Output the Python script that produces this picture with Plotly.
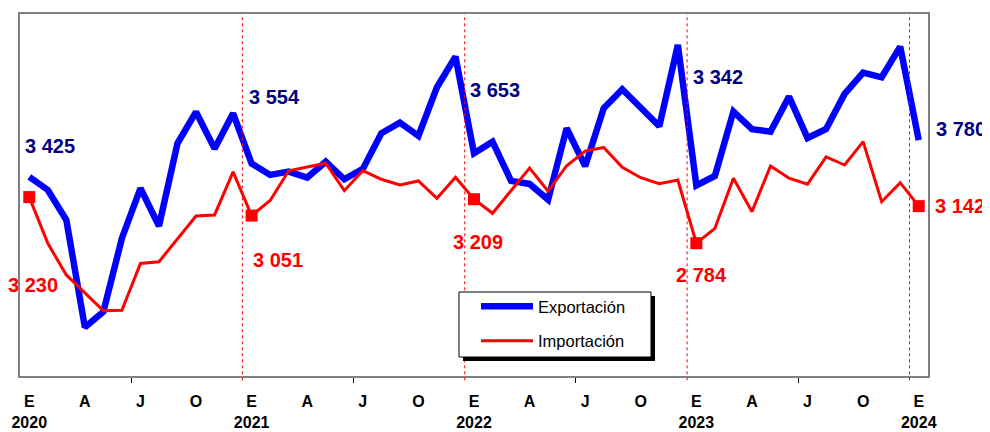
import plotly.graph_objects as go

# ---------------- data ----------------
start_year = 2020
month_letters = ["E", "F", "M", "A", "M", "J", "J", "A", "S", "O", "N", "D"]

exportacion = [
    3425, 3299, 3009, 1971, 2122, 2832, 3315, 2950, 3750, 4053, 3698, 4040,
    3554, 3444, 3476, 3419, 3572, 3402, 3502, 3847, 3949, 3821, 4292, 4588,
    3653, 3766, 3386, 3357, 3205, 3895, 3529, 4089, 4272, 4084, 3915, 4701,
    3342, 3434, 4056, 3886, 3862, 4201, 3801, 3888, 4227, 4433, 4388, 4684,
    3780,
]
importacion = [
    3230, 2783, 2477, 2300, 2131, 2135, 2588, 2605, 2825, 3047, 3057, 3473,
    3051, 3197, 3484, 3518, 3557, 3292, 3485, 3402, 3347, 3386, 3218, 3421,
    3209, 3073, 3295, 3511, 3287, 3533, 3674, 3710, 3518, 3417, 3360, 3395,
    2784, 2928, 3412, 3089, 3531, 3412, 3355, 3618, 3540, 3766, 3185, 3369,
    3142,
]

n = len(exportacion)
x = list(range(n))
jan_idx = [i for i in x if i % 12 == 0]

# ---------------- styles ----------------
FONT = "Liberation Sans, Arial, sans-serif"
BLUE = "#0000FF"
RED = "#FF0000"
NAVY = "#000080"
FRAME = "#808080"

# the page body adds an 8px offset; compensate
OFF = 8
W, H = 990 - OFF, 432 - OFF
PL, PR, PT, PB = 20, 928, 14, 376  # plot area in page pixels

# label offsets (pixels) for the January annotations
exp_offsets = [(21, 31), (23, 67), (21, 63), (22, 108), (42, 11)]
imp_offsets = [(4, -88), (26, -44), (4, -43), (5, -32), (41, 0)]


def fmt(v):
    return f"{v:,}".replace(",", " ")


def px_x(p):
    return (p - PL) / (PR - PL)


def px_y(p):
    return (PB - p) / (PB - PT)


fig = go.Figure()
fig.add_trace(go.Scatter(
    x=x, y=exportacion, mode="lines", name="Exportación",
    line=dict(color=BLUE, width=6.5), legendgroup="a",
))
fig.add_trace(go.Scatter(
    x=x, y=importacion, mode="lines", name="Importación",
    line=dict(color=RED, width=3), legendgroup="b",
))
fig.add_trace(go.Scatter(
    x=jan_idx, y=[importacion[i] for i in jan_idx], mode="markers",
    marker=dict(symbol="square", size=12, color=RED), showlegend=False,
))

annotations = []
for k, i in enumerate(jan_idx):
    dx, dy = exp_offsets[k]
    annotations.append(dict(
        x=i, y=exportacion[i], xref="x", yref="y", text=fmt(exportacion[i]),
        showarrow=False, xshift=dx, yshift=dy,
        font=dict(family=FONT, size=20, color=NAVY, weight="bold"),
    ))
    dx, dy = imp_offsets[k]
    annotations.append(dict(
        x=i, y=importacion[i], xref="x", yref="y", text=fmt(importacion[i]),
        showarrow=False, xshift=dx, yshift=dy,
        font=dict(family=FONT, size=20, color=RED, weight="bold"),
    ))

# year boundaries (dotted red lines) and half-year tick marks
year_bounds = [i - 0.5 for i in jan_idx[1:]]
half_bounds = [i + 5.5 for i in jan_idx[:-1]]

shapes = []
for b in year_bounds:
    shapes.append(dict(
        type="line", xref="x", yref="paper", x0=b, x1=b, y0=-0.012, y1=1,
        line=dict(color=RED, width=1, dash="dot"), layer="above",
    ))

# legend box with shadow
shapes.append(dict(type="rect", xref="paper", yref="paper",
                   x0=px_x(463), x1=px_x(655), y0=px_y(361), y1=px_y(296),
                   fillcolor="black", line=dict(width=0), layer="above"))
shapes.append(dict(type="rect", xref="paper", yref="paper",
                   x0=px_x(459), x1=px_x(651), y0=px_y(357), y1=px_y(292),
                   fillcolor="white", line=dict(color="black", width=1), layer="above"))

tickvals = [i for i in x if i % 3 == 0]
ticktext = []
for i in tickvals:
    t = month_letters[i % 12]
    if i % 12 == 0:
        t += "<br>" + str(start_year + i // 12)
    ticktext.append(t)

fig.update_layout(
    width=W, height=H,
    margin=dict(l=PL - OFF, r=990 - PR, t=PT - OFF, b=432 - PB, pad=0,
                autoexpand=False),
    paper_bgcolor="white", plot_bgcolor="white",
    font=dict(family=FONT, color="black"),
    showlegend=True,
    legend=dict(
        x=px_x(476), y=px_y(289), xanchor="left", yanchor="top",
        bgcolor="rgba(0,0,0,0)", borderwidth=0,
        font=dict(family=FONT, size=16.5, color="black"),
        tracegroupgap=10, traceorder="grouped", itemwidth=52,
    ),
    xaxis=dict(
        range=[-0.5, n - 0.5], showgrid=False, zeroline=False,
        showline=True, linecolor=FRAME, linewidth=2, mirror=True,
        tickmode="array", tickvals=half_bounds, ticks="outside",
        ticklen=5, tickcolor="black", tickwidth=1, showticklabels=False,
        automargin=False,
    ),
    xaxis2=dict(
        overlaying="x", anchor="y", side="bottom",
        range=[-0.5, n - 0.5], showgrid=False, zeroline=False, showline=False,
        tickmode="array", tickvals=tickvals, ticktext=ticktext, ticks="",
        ticklabelstandoff=14, automargin=False,
        tickfont=dict(family=FONT, size=16, color="black", weight="bold"),
    ),
    yaxis=dict(
        range=[1500, 5000], showgrid=False, zeroline=False,
        showline=True, linecolor=FRAME, linewidth=2, mirror=True,
        showticklabels=False, ticks="", automargin=False,
    ),
    annotations=annotations,
    shapes=shapes,
)
# invisible trace so the labelled bottom axis renders
fig.add_trace(go.Scatter(x=[0], y=[None], xaxis="x2", yaxis="y",
                         showlegend=False, hoverinfo="skip"))

fig.write_html("out.html")
